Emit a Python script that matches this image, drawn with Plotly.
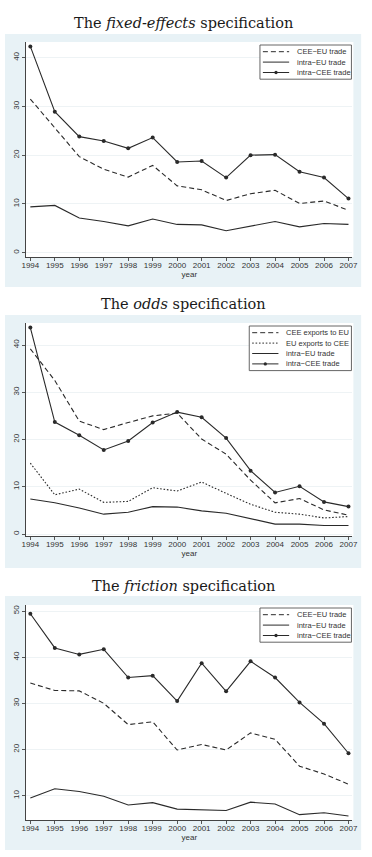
import plotly.graph_objects as go

# ---------------- data ----------------
years = list(range(1994, 2008))

# Panel 1: fixed-effects specification
fe_cee_eu = [31.5, 25.7, 19.7, 17.1, 15.5, 17.9, 13.7, 12.9, 10.7, 12.1, 12.8, 10.1, 10.6, 8.7]
fe_intra_eu = [9.4, 9.7, 7.1, 6.4, 5.5, 6.9, 5.8, 5.7, 4.5, 5.5, 6.4, 5.3, 6.0, 5.8]
fe_intra_cee = [42.3, 28.9, 23.8, 22.9, 21.4, 23.6, 18.6, 18.8, 15.4, 20.0, 20.1, 16.6, 15.4, 11.1]

# Panel 2: odds specification
od_cee_to_eu = [39.2, 32.5, 23.9, 22.1, 23.6, 25.0, 25.6, 20.1, 16.9, 11.4, 6.6, 7.5, 5.1, 4.0]
od_eu_to_cee = [15.0, 8.3, 9.5, 6.7, 6.9, 9.8, 9.1, 11.0, 8.6, 6.3, 4.6, 4.2, 3.4, 3.7]
od_intra_eu = [7.4, 6.6, 5.5, 4.2, 4.6, 5.8, 5.7, 4.9, 4.4, 3.2, 2.1, 2.1, 1.8, 1.8]
od_intra_cee = [43.7, 23.7, 20.9, 17.8, 19.7, 23.6, 25.8, 24.7, 20.3, 13.4, 8.8, 10.1, 6.8, 5.8]

# Panel 3: friction specification
fr_cee_eu = [34.4, 32.8, 32.7, 30.0, 25.4, 26.0, 19.9, 21.1, 19.9, 23.6, 22.2, 16.4, 14.7, 12.5]
fr_intra_eu = [9.5, 11.5, 10.9, 9.9, 8.0, 8.5, 7.1, 6.9, 6.8, 8.6, 8.2, 5.9, 6.3, 5.6]
fr_intra_cee = [49.4, 42.0, 40.6, 41.7, 35.6, 36.0, 30.5, 38.7, 32.6, 39.1, 35.6, 30.2, 25.6, 19.2]

titles = ["The <i>fixed-effects</i> specification",
          "The <i>odds</i> specification",
          "The <i>friction</i> specification"]
x_title = "year"

panel1_series = [("CEE\u2212EU trade", fe_cee_eu, "dash"),
                 ("intra\u2212EU trade", fe_intra_eu, "solid"),
                 ("intra\u2212CEE trade", fe_intra_cee, "marker")]
panel2_series = [("CEE exports to EU", od_cee_to_eu, "dash"),
                 ("EU exports to CEE", od_eu_to_cee, "dot"),
                 ("intra\u2212EU trade", od_intra_eu, "solid"),
                 ("intra\u2212CEE trade", od_intra_cee, "marker")]
panel3_series = [("CEE\u2212EU trade", fr_cee_eu, "dash"),
                 ("intra\u2212EU trade", fr_intra_eu, "solid"),
                 ("intra\u2212CEE trade", fr_intra_cee, "marker")]

y_ticks1 = [0, 10, 20, 30, 40]
y_ticks2 = [0, 10, 20, 30, 40]
y_ticks3 = [10, 20, 30, 40, 50]

# ---------------- layout geometry (pixels) ----------------
W, H = 372, 857
def pxx(x):
    return x / W
def pxy(y):
    return 1 - y / H

LINE_COLOR = "#2a2a2a"
BLUE = "#e8f2f6"
DASHES = {"dash": "5px,3px", "dot": "1.6px,1.8px", "solid": "solid", "marker": "solid"}

panels = [
    dict(series=panel1_series, ticks=y_ticks1, title=titles[0], title_y=22.5,
         bg=(0, 34, 366, 287), plot=(22, 42, 357, 257), yrange=[-0.88, 43.2],
         legend_w=94),
    dict(series=panel2_series, ticks=y_ticks2, title=titles[1], title_y=304,
         bg=(0, 315, 366, 568), plot=(22, 323, 357, 536), yrange=[-0.42, 44.66],
         legend_w=105),
    dict(series=panel3_series, ticks=y_ticks3, title=titles[2], title_y=586,
         bg=(0, 596, 366, 850), plot=(22, 605, 357, 820), yrange=[4.74, 51.3],
         legend_w=94),
]

fig = go.Figure()
shapes = []
annotations = []
axis_font = dict(family="Liberation Sans, Arial, sans-serif", size=8, color="#333333")

for i, p in enumerate(panels, start=1):
    xa = "x" if i == 1 else f"x{i}"
    ya = "y" if i == 1 else f"y{i}"
    for name, vals, style in p["series"]:
        fig.add_trace(go.Scatter(
            x=years, y=vals, name=name, xaxis=xa, yaxis=ya,
            mode="lines+markers" if style == "marker" else "lines",
            line=dict(color=LINE_COLOR, width=1.1, dash=DASHES[style]),
            marker=dict(size=4, color=LINE_COLOR),
            showlegend=False,
        ))
    l, t, r, b = p["plot"]
    bl, bt, br, bb = p["bg"]
    # outer light-blue region and white plot region
    shapes.append(dict(type="rect", xref="paper", yref="paper", layer="below",
                       x0=pxx(bl), x1=pxx(br), y0=pxy(bb), y1=pxy(bt),
                       fillcolor=BLUE, line=dict(width=0)))
    shapes.append(dict(type="rect", xref="paper", yref="paper", layer="below",
                       x0=pxx(l - 1), x1=pxx(r + 1), y0=pxy(b), y1=pxy(t),
                       fillcolor="white", line=dict(width=0)))
    xkey = "xaxis" if i == 1 else f"xaxis{i}"
    ykey = "yaxis" if i == 1 else f"yaxis{i}"
    fig.layout[xkey] = dict(
        domain=[pxx(l), pxx(r)], anchor=ya, range=[1993.84, 2007.16],
        tickmode="array", tickvals=years, ticktext=[str(y) for y in years],
        ticks="outside", ticklen=3, tickcolor="#555555", tickwidth=0.8,
        ticklabelstandoff=-3,
        showline=True, linecolor="#444444", linewidth=0.9,
        showgrid=False, zeroline=False, tickfont=axis_font,
        title=dict(text=x_title, font=axis_font, standoff=0),
    )
    fig.layout[ykey] = dict(
        domain=[pxy(b), pxy(t)], anchor=xa, range=p["yrange"],
        tickmode="array", tickvals=p["ticks"],
        ticks="outside", ticklen=3, tickcolor="#555555", tickwidth=0.8,
        showline=True, linecolor="#444444", linewidth=0.9,
        showgrid=True, gridcolor="#eef3f5", gridwidth=0.8,
        zeroline=False, tickfont=axis_font, tickangle=-90,
    )
    # panel title
    annotations.append(dict(xref="paper", yref="paper", x=pxx(183), y=pxy(p["title_y"]),
                            text=p["title"], showarrow=False, xanchor="center", yanchor="middle",
                            font=dict(family="DejaVu Serif, Liberation Serif, serif",
                                      size=14.5, color="#1a1a1a")))
    # legend box (manual, compact like Stata)
    n = len(p["series"])
    box_r = r - 1
    box_l = box_r - p["legend_w"]
    box_t = t + 3
    row_h = 10.4
    box_b = box_t + n * row_h + 3
    shapes.append(dict(type="rect", xref="paper", yref="paper",
                       x0=pxx(box_l), x1=pxx(box_r), y0=pxy(box_b), y1=pxy(box_t),
                       fillcolor="white", line=dict(color="#555555", width=0.9)))
    for k, (name, vals, style) in enumerate(p["series"]):
        ry = box_t + 6.7 + k * row_h
        sx0, sx1 = box_l + 3, box_l + 30
        shapes.append(dict(type="line", xref="paper", yref="paper",
                           x0=pxx(sx0), x1=pxx(sx1), y0=pxy(ry), y1=pxy(ry),
                           line=dict(color=LINE_COLOR, width=1.0,
                                     dash=None if DASHES[style] == "solid" else DASHES[style])))
        if style == "marker":
            cx = (sx0 + sx1) / 2
            shapes.append(dict(type="circle", xref="paper", yref="paper",
                               x0=pxx(cx - 1.7), x1=pxx(cx + 1.7),
                               y0=pxy(ry + 1.7), y1=pxy(ry - 1.7),
                               fillcolor=LINE_COLOR, line=dict(width=0)))
        annotations.append(dict(xref="paper", yref="paper", x=pxx(sx1 + 6), y=pxy(ry),
                                text=name, showarrow=False, xanchor="left", yanchor="middle",
                                font=dict(family="Liberation Sans, Arial, sans-serif",
                                          size=7.5, color="#333333")))

fig.update_layout(
    width=W, height=H, margin=dict(l=0, r=0, t=0, b=0),
    paper_bgcolor="white", plot_bgcolor="rgba(0,0,0,0)",
    shapes=shapes, annotations=annotations, showlegend=False,
)

fig.write_html("out.html")
